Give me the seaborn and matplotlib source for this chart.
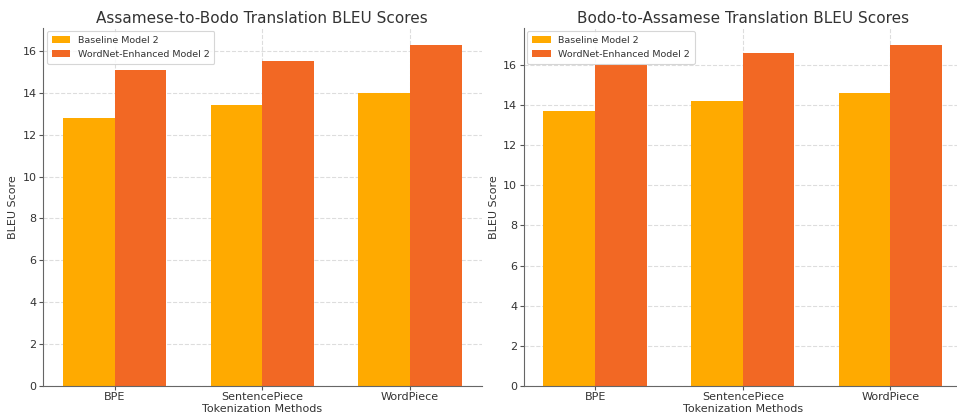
import matplotlib
matplotlib.use("Agg")
import matplotlib.pyplot as plt
import seaborn as sns
import pandas as pd

methods = ["BPE", "SentencePiece", "WordPiece"]
series = ["Baseline Model 2", "WordNet-Enhanced Model 2"]
as_to_bodo_baseline = [12.8, 13.4, 14.0]
as_to_bodo_wordnet = [15.1, 15.5, 16.3]
bodo_to_as_baseline = [13.7, 14.2, 14.6]
bodo_to_as_wordnet = [16.0, 16.6, 17.0]
titles = ["Assamese-to-Bodo Translation BLEU Scores", "Bodo-to-Assamese Translation BLEU Scores"]
colors = ["#FFAA00", "#F26824"]

sns.set_style("whitegrid", {
    "axes.edgecolor": "#666666",
    "grid.color": "#dddddd",
    "grid.linestyle": "--",
    "axes.linewidth": 1.6,
    "xtick.bottom": True,
    "ytick.left": True,
})
plt.rcParams["font.family"] = ["DejaVu Sans"]
plt.rcParams["text.color"] = "#333333"
plt.rcParams["axes.labelcolor"] = "#333333"

def make_df(b, w):
    return pd.DataFrame({
        "method": methods * 2,
        "model": [series[0]] * 3 + [series[1]] * 3,
        "score": list(b) + list(w),
    })

fig = plt.figure(figsize=(9.57, 4.17), dpi=100)
W, H = 957, 417
ax1 = fig.add_axes([43 / W, 31 / H, 438.5 / W, 358.4 / H])
ax2 = fig.add_axes([523.5 / W, 31 / H, 438.5 / W, 358.4 / H])

data = [(as_to_bodo_baseline, as_to_bodo_wordnet), (bodo_to_as_baseline, bodo_to_as_wordnet)]
for ax, (b, w), t in zip([ax1, ax2], data, titles):
    df = make_df(b, w)
    sns.barplot(data=df, x="method", y="score", hue="model", palette=colors,
                width=0.7, saturation=1, linewidth=0, ax=ax)
    ax.set_xlim(-0.485, 2.485)
    ax.set_ylim(0, max(w) * 1.05)
    ax.set_title(t, fontsize=11, color="#333333", pad=3)
    ax.set_xlabel("Tokenization Methods", fontsize=8, labelpad=1)
    ax.set_ylabel("BLEU Score", fontsize=8, labelpad=3)
    ax.tick_params(axis="both", labelsize=8, length=3, width=0.8, pad=1.5, colors="#555555")
    for lbl in ax.get_xticklabels() + ax.get_yticklabels():
        lbl.set_color("#333333")
    ax.grid(True, axis="both", linestyle="--", color="#dddddd", linewidth=0.8)
    ax.set_axisbelow(True)
    for s in ["top", "right"]:
        ax.spines[s].set_visible(False)
    leg = ax.legend(loc="upper left", fontsize=6.8, frameon=True, title=None,
                    handlelength=2.0, borderpad=0.5, labelspacing=0.5,
                    borderaxespad=0.4)
    leg.get_frame().set_edgecolor("#cccccc")
    leg.get_frame().set_linewidth(0.8)
    for txt in leg.get_texts():
        txt.set_color("#333333")

fig.savefig("out.png", dpi=100)
